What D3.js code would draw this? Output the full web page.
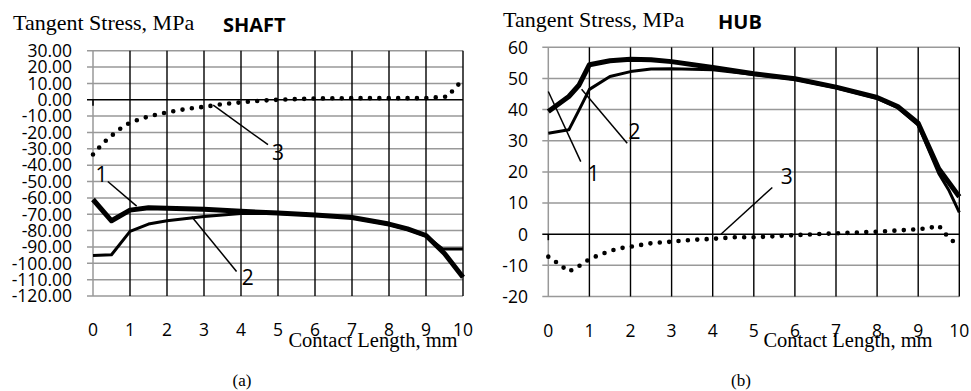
<!DOCTYPE html>
<html>
<head>
<meta charset="utf-8">
<script src="https://cdn.jsdelivr.net/npm/d3@7"></script>
<style>
  body { margin: 0; background: #fff; }
  svg { display: block; }
</style>
</head>
<body>
<svg id="chart" width="971" height="391"></svg>
<script>
// ---- data ----
const xTicks = [0, 1, 2, 3, 4, 5, 6, 7, 8, 9, 10];
const shaftYTicks = [30, 20, 10, 0, -10, -20, -30, -40, -50, -60, -70, -80, -90, -100, -110, -120];
const hubYTicks = [60, 50, 40, 30, 20, 10, 0, -10, -20];

// SHAFT, curve 1 (thick)
const shaft1X = [0, 0.5, 1, 1.5, 2, 3, 4, 5, 6, 7, 8, 8.5, 9, 9.5, 10];
const shaft1Y = [-61, -74, -67.5, -66, -66.3, -67, -68.2, -69.3, -70.5, -72, -76, -79, -83, -94, -108.5];
// SHAFT, curve 2
const shaft2X = [0, 0.5, 1, 1.5, 2, 3, 4, 5, 6, 7, 8, 8.5, 9, 9.45, 10];
const shaft2Y = [-95.2, -94.8, -80.5, -76, -74, -71.4, -69.6, -69.5, -70.6, -72.2, -76.3, -79.3, -83.3, -91.2, -91.2];
// SHAFT, curve 3 (dotted)
const shaft3X = [0, 0.25, 0.5, 0.75, 1, 1.5, 2, 2.5, 3, 3.5, 4, 4.5, 5, 6, 7, 8, 9, 9.6, 9.75, 9.85, 10];
const shaft3Y = [-33.5, -27, -22, -17.5, -13.9, -10.2, -7.7, -5.7, -4.3, -2.7, -1.6, -0.6, 0, 0.8, 1, 1, 1, 2, 6.5, 8.5, 13.3];

// HUB, curve 1 (thick)
const hub1X = [0, 0.5, 0.75, 1, 1.5, 2, 2.5, 3, 4, 5, 6, 7, 8, 8.5, 9, 9.5, 9.75, 10];
const hub1Y = [39.4, 44.2, 47.9, 54.4, 55.7, 56.2, 56, 55.4, 53.5, 51.5, 49.9, 47.2, 43.9, 41, 35.6, 21, 16.5, 12];
// HUB, curve 2
const hub2X = [0, 0.5, 0.75, 1, 1.5, 2, 2.5, 3, 4, 5, 6, 7, 8, 8.5, 9, 9.5, 9.75, 10];
const hub2Y = [32.4, 33.5, 39.9, 46.5, 50.6, 52.2, 53, 53.1, 52.8, 51.3, 49.7, 47, 43.6, 40.6, 35, 19.5, 14, 7];
// HUB, curve 3 (dotted)
const hub3X = [0, 0.25, 0.5, 0.75, 1, 1.25, 1.5, 1.75, 2, 2.5, 3, 3.5, 4, 4.5, 5, 6, 7, 8, 8.5, 9, 9.25, 9.5, 9.65, 9.75, 10];
const hub3Y = [-7.2, -9.5, -12, -10.2, -8, -6.6, -5.4, -4.5, -4, -2.9, -2.4, -1.8, -1.5, -1, -1, -0.3, 0.3, 0.8, 1.2, 1.6, 1.9, 2.8, 0.3, -1.2, -3.8];

const zip = (xs, ys) => xs.map((x, i) => [x, ys[i]]);

const svg = d3.select('#chart');
svg.append('rect').attr('width', 971).attr('height', 391).attr('fill', '#fff');

const tickFont = "'Open Sans', sans-serif";
const serifFont = "'Liberation Serif', 'Times New Roman', serif";

function drawPanel(p) {
  const x = d3.scaleLinear().domain([0, 10]).range(p.xRange);
  const y = d3.scaleLinear().domain(p.yDomain).range(p.yRange);
  const g = svg.append('g');
  const [x0, x1] = p.xRange;
  const [yb, yt] = p.yRange;

  // horizontal gridlines (gray), sticking out left as tick marks
  g.selectAll('line.hgrid').data(p.yTicks.filter(v => v !== 0)).join('line')
    .attr('x1', x0 - 6).attr('x2', x1)
    .attr('y1', d => y(d)).attr('y2', d => y(d))
    .attr('stroke', '#999').attr('stroke-width', 1.5);

  // left axis line (gray)
  g.append('line')
    .attr('x1', x0).attr('x2', x0).attr('y1', yt).attr('y2', yb)
    .attr('stroke', '#999').attr('stroke-width', 1.5);

  // vertical gridlines (black)
  g.selectAll('line.vgrid').data(xTicks.filter(v => v !== 0)).join('line')
    .attr('x1', d => x(d)).attr('x2', d => x(d))
    .attr('y1', yt).attr('y2', yb)
    .attr('stroke', '#000').attr('stroke-width', 1.4);

  // zero line (black) with its tick at x=0
  g.append('line')
    .attr('x1', x0 - 6).attr('x2', x1).attr('y1', y(0)).attr('y2', y(0))
    .attr('stroke', '#000').attr('stroke-width', 1.6);
  g.append('line')
    .attr('x1', x0).attr('x2', x0).attr('y1', y(0)).attr('y2', y(0) + 6)
    .attr('stroke', '#000').attr('stroke-width', 1.6);

  // y tick labels
  g.selectAll('text.ytick').data(p.yTicks).join('text')
    .attr('x', p.yLabelX).attr('y', d => y(d))
    .attr('dy', '0.36em')
    .attr('text-anchor', 'end')
    .attr('font-family', tickFont).attr('font-size', 17.5)
    .text(p.yFormat);

  // x tick labels
  g.selectAll('text.xtick').data(xTicks).join('text')
    .attr('x', d => x(d)).attr('y', p.xLabelY)
    .attr('dy', '0.36em')
    .attr('text-anchor', 'middle')
    .attr('font-family', tickFont).attr('font-size', 17.5)
    .text(d => d);

  const line = d3.line().x(d => x(d[0])).y(d => y(d[1]));

  // curves
  g.append('path').datum(p.s2).attr('d', line)
    .attr('fill', 'none').attr('stroke', '#000').attr('stroke-width', 3)
    .attr('stroke-linejoin', 'round');
  g.append('path').datum(p.s1).attr('d', line)
    .attr('fill', 'none').attr('stroke', '#000').attr('stroke-width', 5)
    .attr('stroke-linejoin', 'round');
  g.append('path').datum(p.s3).attr('d', line)
    .attr('fill', 'none').attr('stroke', '#000').attr('stroke-width', 4.6)
    .attr('stroke-linecap', 'round').attr('stroke-dasharray', '0 9.4');

  // leader lines and curve numbers
  p.notes.forEach(n => {
    g.append('line')
      .attr('x1', x(n.from[0])).attr('y1', y(n.from[1]))
      .attr('x2', x(n.to[0])).attr('y2', y(n.to[1]))
      .attr('stroke', '#000').attr('stroke-width', 1.5);
    g.append('text')
      .attr('x', x(n.at[0])).attr('y', y(n.at[1]))
      .attr('dy', '0.36em').attr('text-anchor', 'middle')
      .attr('font-family', tickFont).attr('font-size', 21)
      .text(n.label);
  });

  // titles
  g.append('text')
    .attr('x', p.titleX).attr('y', p.titleY)
    .attr('font-family', serifFont).attr('font-size', 22)
    .text('Tangent Stress, MPa');
  g.append('text')
    .attr('x', p.nameX).attr('y', p.titleY + 2)
    .attr('font-family', tickFont).attr('font-weight', 'bold').attr('font-size', 20)
    .text(p.name);
  g.append('text')
    .attr('x', p.xTitleX).attr('y', 347)
    .attr('text-anchor', 'middle')
    .attr('font-family', serifFont).attr('font-size', 20.5)
    .text('Contact Length, mm');
  g.append('text')
    .attr('x', p.capX).attr('y', 386)
    .attr('text-anchor', 'middle')
    .attr('font-family', serifFont).attr('font-size', 17)
    .text(p.caption);
}

drawPanel({
  xRange: [93, 463], yDomain: [-120, 30], yRange: [296, 50.7],
  yTicks: shaftYTicks, yFormat: d => d.toFixed(2), yLabelX: 72, xLabelY: 330,
  s1: zip(shaft1X, shaft1Y), s2: zip(shaft2X, shaft2Y), s3: zip(shaft3X, shaft3Y),
  notes: [
    { label: '1', at: [0.23, -45.5], from: [0.4, -50], to: [1.18, -65] },
    { label: '2', at: [4.18, -108.5], from: [2.67, -71.5], to: [3.88, -105] },
    { label: '3', at: [5, -32.5], from: [3.25, -3.3], to: [4.73, -27.5] }
  ],
  titleX: 13, titleY: 30, name: 'SHAFT', nameX: 223,
  xTitleX: 373, capX: 242, caption: '(a)'
});

drawPanel({
  xRange: [548.3, 959.3], yDomain: [-20, 60], yRange: [296.5, 47.3],
  yTicks: hubYTicks, yFormat: d => String(d), yLabelX: 528, xLabelY: 331,
  s1: zip(hub1X, hub1Y), s2: zip(hub2X, hub2Y), s3: zip(hub3X, hub3Y),
  notes: [
    { label: '1', at: [1.1, 19.5], from: [0, 45.8], to: [0.79, 23.3] },
    { label: '2', at: [2.1, 32.9], from: [0.81, 46.5], to: [1.92, 29.2] },
    { label: '3', at: [5.8, 18.5], from: [4.2, 0], to: [5.45, 15] }
  ],
  titleX: 503, titleY: 27, name: 'HUB', nameX: 718,
  xTitleX: 848, capX: 741, caption: '(b)'
});
</script>
</body>
</html>
